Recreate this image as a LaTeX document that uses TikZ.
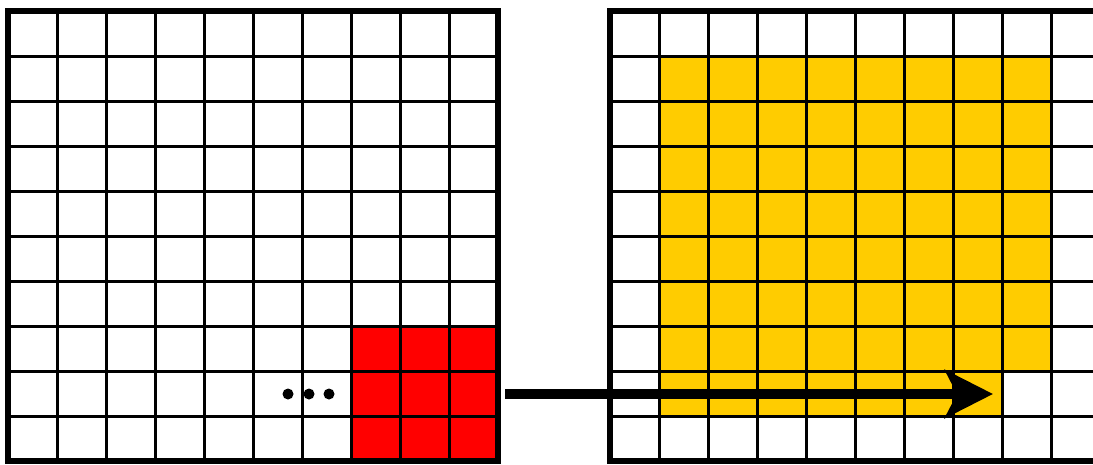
\documentclass[tikz,border=0pt]{standalone}
\usepackage{tikz}
\usetikzlibrary{arrows.meta}
\definecolor{cellyellow}{RGB}{255,204,0}
\definecolor{cellred}{RGB}{255,0,0}

\begin{document}
\begin{tikzpicture}[
  x=1pt, y=-1pt,
  gridline/.style={line width=3pt},
  gridframe/.style={line width=6pt},
  dotmark/.style={circle, fill=black, minimum size=11pt, inner sep=0pt},
  moveline/.style={line width=10pt, -{Stealth[length=48pt, width=48pt, inset=12pt]}}
]
  \useasboundingbox (0,0) rectangle (1093,464);
  \clip (0,0) rectangle (1093,464);

  % left grid with the red block
  \begin{scope}[shift={(8,11)}]
    \fill[cellred] (343,315) rectangle (490,450);
    \foreach \i in {1,...,9} {
      \draw[gridline] ({49*\i},0) -- ({49*\i},450);
      \draw[gridline] (0,{45*\i}) -- (490,{45*\i});
    }
    \draw[gridframe] (0,0) rectangle (490,450);
  \end{scope}

  % right grid with the yellow region
  \begin{scope}[shift={(610,11)}]
    \fill[cellyellow] (49,45) -- (441,45) -- (441,360) -- (392,360)
      -- (392,405) -- (49,405) -- cycle;
    \foreach \i in {1,...,9} {
      \draw[gridline] ({49*\i},0) -- ({49*\i},450);
      \draw[gridline] (0,{45*\i}) -- (490,{45*\i});
    }
    \draw[gridframe] (0,0) rectangle (490,450);
  \end{scope}

  \node[dotmark] (dota) at (288,394) {};
  \node[dotmark] (dotb) at (309,394) {};
  \node[dotmark] (dotc) at (329,394) {};

  \coordinate (movestart) at (505,394);
  \coordinate (moveend) at (993,394);
  \draw[moveline] (movestart) -- (moveend);
\end{tikzpicture}
\end{document}
